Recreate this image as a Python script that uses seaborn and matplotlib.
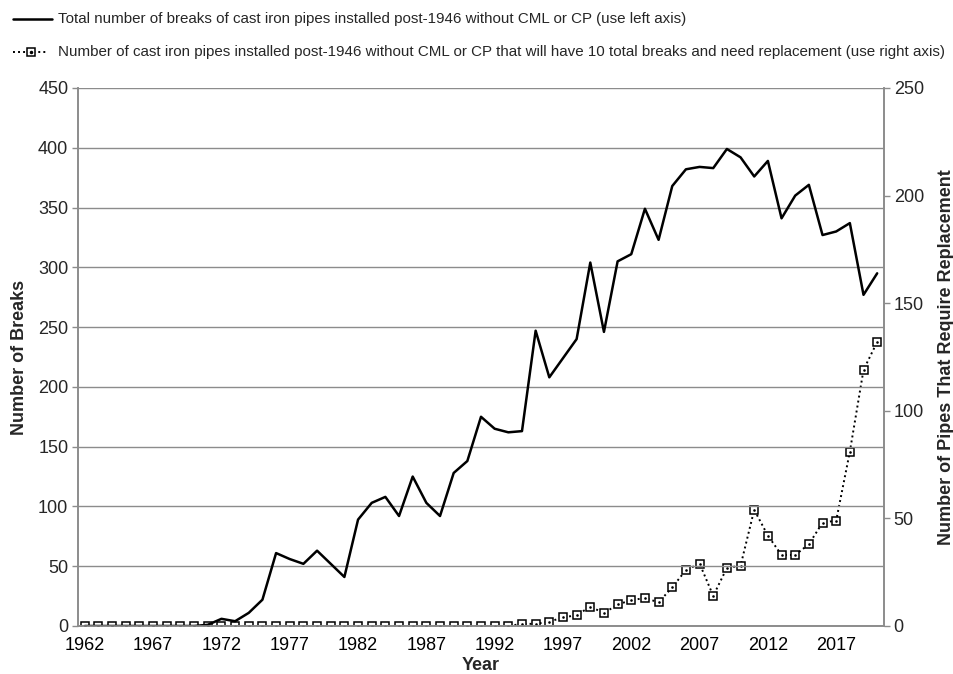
import matplotlib
matplotlib.use("Agg")
import matplotlib.pyplot as plt
from matplotlib.lines import Line2D
from matplotlib.ticker import FixedLocator, NullFormatter
import pandas as pd
import seaborn as sns

# Annual data, 1962-2020
years = list(range(1962, 2021))
breaks = [0, 0, 0, 0, 0, 0, 0, 0, 0,
          1, 6, 4, 11, 22, 61, 56, 52, 63, 52,
          41, 89, 103, 108, 92, 125, 103, 92, 128, 138,
          175, 165, 162, 163, 247, 208, 224, 240, 304, 246,
          305, 311, 349, 323, 368, 382, 384, 383, 399, 392,
          376, 389, 341, 360, 369, 327, 330, 337, 277, 295]
replacements = [0] * 32 + [1, 1, 2, 4, 5, 9, 6, 10, 12, 13, 11, 18, 26, 29, 14,
                           27, 28, 54, 42, 33, 33, 38, 48, 49, 81, 119, 132]
label_years = [1962, 1967, 1972, 1977, 1982, 1987, 1992, 1997, 2002, 2007, 2012, 2017]

legend_breaks = ("Total number of breaks of cast iron pipes installed post-1946 "
                 "without CML or CP (use left axis)")
legend_repl = ("Number of cast iron pipes installed post-1946 without CML or CP that "
               "will have 10 total breaks and need replacement (use right axis)")

df = pd.DataFrame({"year": years, "breaks": breaks, "replacements": replacements})

sns.set_style("white")
plt.rcParams["font.family"] = ["Liberation Sans", "DejaVu Sans"]

GRID = "#8c8c8c"
W, H = 954, 674
fig = plt.figure(figsize=(W / 100, H / 100), dpi=100)
ax = fig.add_axes([78 / W, 1 - 626 / H, (884 - 78) / W, (626 - 88) / H])
ax2 = ax.twinx()

# right-axis series: dotted line with hollow square markers
sns.lineplot(data=df, x="year", y="replacements", ax=ax2, color="black",
             linewidth=1.4, linestyle=(0, (1, 1.6)), marker="s", markersize=5.5,
             markerfacecolor="white", markeredgecolor="black",
             markeredgewidth=1.1, legend=False)
sns.scatterplot(data=df, x="year", y="replacements", ax=ax2, color="black",
                s=3.5, linewidth=0, legend=False, zorder=5)

# left-axis series: solid black line
sns.lineplot(data=df, x="year", y="breaks", ax=ax, color="black",
             linewidth=1.8, legend=False)

ax.set_zorder(ax2.get_zorder() + 1)
ax.patch.set_visible(False)

ax.set_xlim(years[0] - 0.5, years[-1] + 0.5)
ax.set_ylim(0, 450)
ax.set_yticks(range(0, 451, 50))
ax2.set_ylim(0, 250)
ax2.set_yticks(range(0, 251, 50))

ax.yaxis.grid(True, color=GRID, linewidth=1.0)
ax.set_axisbelow(True)

ax.set_xticks(label_years)
ax.set_xticklabels([str(y) for y in label_years])
ax.xaxis.set_minor_locator(FixedLocator([years[0] - 0.5 + 10 * k for k in range(6)]))
ax.xaxis.set_minor_formatter(NullFormatter())
ax.tick_params(axis="x", which="major", length=0, pad=8, labelsize=13, colors="black")
ax.tick_params(axis="x", which="minor", length=4, width=1, color=GRID)
ax.tick_params(axis="y", length=4, width=1, color=GRID, labelsize=13, pad=3)
ax2.tick_params(axis="y", length=4, width=1, color=GRID, labelsize=13, pad=3)

for a in (ax, ax2):
    a.spines["top"].set_visible(False)
    for side in ("left", "right", "bottom"):
        a.spines[side].set_color(GRID)
        a.spines[side].set_linewidth(1.2)

ax.set_xlabel("Year", fontsize=13, fontweight="bold", labelpad=2)
ax.set_ylabel("Number of Breaks", fontsize=13, fontweight="bold", labelpad=7)
ax2.set_ylabel("Number of Pipes That Require Replacement", fontsize=13,
               fontweight="bold", labelpad=10)

# legend drawn above the plot area
y1 = 1 - 19 / H
y2 = 1 - 52 / H
fig.add_artist(Line2D([13 / W, 52 / W], [y1, y1], color="black", linewidth=1.8,
                      transform=fig.transFigure))
fig.add_artist(Line2D([13 / W, 48 / W], [y2, y2], color="black", linewidth=1.4,
                      linestyle=(0, (1, 1.6)), transform=fig.transFigure))
fig.add_artist(Line2D([31 / W], [y2], color="black", marker="s", markersize=5.5,
                      markerfacecolor="white", markeredgewidth=1.1,
                      transform=fig.transFigure))
fig.add_artist(Line2D([31 / W], [y2], color="black", marker="o", markersize=1.5,
                      linewidth=0, transform=fig.transFigure))
fig.text(58 / W, y1, legend_breaks, fontsize=10.9, va="center", ha="left")
fig.text(58 / W, y2, legend_repl, fontsize=10.9, va="center", ha="left")

fig.savefig("out.png", dpi=100)
